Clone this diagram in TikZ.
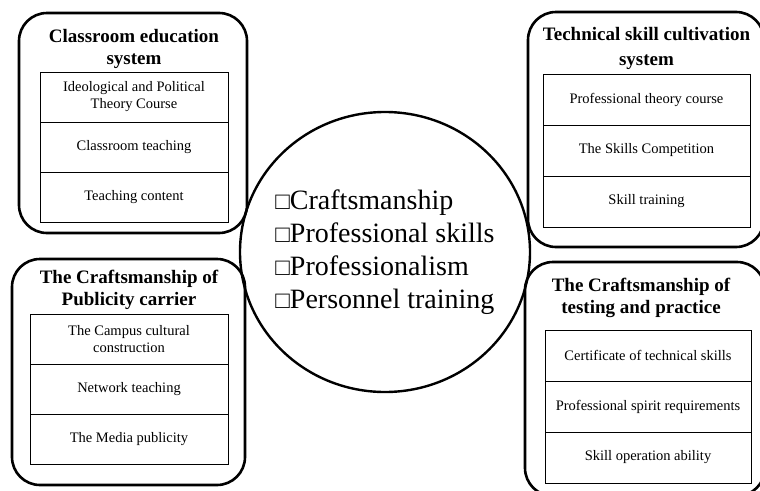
\documentclass[tikz,border=0pt]{standalone}
\usepackage{fontspec}
\setmainfont{Liberation Serif}
\usetikzlibrary{positioning,shapes.geometric}

\tikzset{
  panel/.style={draw, line width=2.6pt, rounded corners=28pt, outer sep=0pt},
  cell/.style={draw, line width=1pt, minimum height=50pt, outer sep=0pt,
    align=center, inner sep=2pt, font=\fontsize{14.5}{17}\selectfont},
  headline/.style={align=center, inner sep=0pt,
    font=\fontsize{19}{22}\selectfont\bfseries},
  hub/.style={draw, ellipse, line width=2.4pt, minimum width=290pt,
    minimum height=280pt},
  hubtext/.style={align=left, inner sep=0pt, font=\fontsize{28}{33}\selectfont}
}
\newcommand{\boxmark}{{\fontsize{24}{24}\selectfont □}}

\begin{document}
\begin{tikzpicture}[x=1pt,y=-1pt]
		\clip (0,0) rectangle (760,490);
		
		% Frames
		\node[panel, minimum width=228pt, minimum height=220pt] (f_class) at (133,123) {};
		\node[panel, minimum width=236pt, minimum height=235pt] (f_tech)  at (646,129.5) {};
		\node[panel, minimum width=233pt, minimum height=226pt] (f_pub)   at (128.5,372) {};
		\node[panel, minimum width=240pt, minimum height=234pt] (f_test)  at (645,379) {};
		
		% Classroom education system
		\node[cell, minimum width=188pt] (c_ideo) at (134,97) {Ideological and Political\\Theory Course};
		\node[cell, minimum width=188pt, below=0pt of c_ideo] (c_room) {Classroom teaching};
		\node[cell, minimum width=188pt, below=0pt of c_room] (c_cont) {Teaching content};
		\node[headline, above=3pt of c_ideo] (t_class) {Classroom education\\system};
		
		% Technical skill cultivation system
		\node[cell, minimum width=207pt, minimum height=51pt] (c_theo) at (646.5,99.5) {Professional theory course};
		\node[cell, minimum width=207pt, minimum height=51pt, below=0pt of c_theo] (c_comp) {The Skills Competition};
		\node[cell, minimum width=207pt, minimum height=51pt, below=0pt of c_comp] (c_train) {Skill training};
		\node[headline, above=4pt of c_theo, font=\fontsize{19}{25}\selectfont\bfseries] (t_tech) {Technical skill cultivation\\system};
		
		% Publicity carrier
		\node[cell, minimum width=198pt] (c_camp) at (129,339) {The Campus cultural\\construction};
		\node[cell, minimum width=198pt, below=0pt of c_camp] (c_net) {Network teaching};
		\node[cell, minimum width=198pt, below=0pt of c_net] (c_media) {The Media publicity};
		\node[headline, above=4pt of c_camp] (t_pub) {The Craftsmanship of\\Publicity carrier};
		
		% Testing and practice
		\node[cell, minimum width=206pt, minimum height=51pt] (c_cert) at (648,355.5) {Certificate of technical skills};
		\node[cell, minimum width=206pt, minimum height=51pt, below=0pt of c_cert] (c_spirit) {Professional spirit requirements};
		\node[cell, minimum width=206pt, minimum height=51pt, below=0pt of c_spirit] (c_oper) {Skill operation ability};
		\node[headline, above=12pt of c_cert, xshift=-7pt] (t_test) {The Craftsmanship of\\testing and practice};
		
		% Centre
		\node[hub] (core) at (385,252) {};
		\node[hubtext] (core_text) at (core.center) {\boxmark Craftsmanship\\\boxmark Professional skills\\\boxmark Professionalism\\\boxmark Personnel training};
		
\end{tikzpicture}
\end{document}
